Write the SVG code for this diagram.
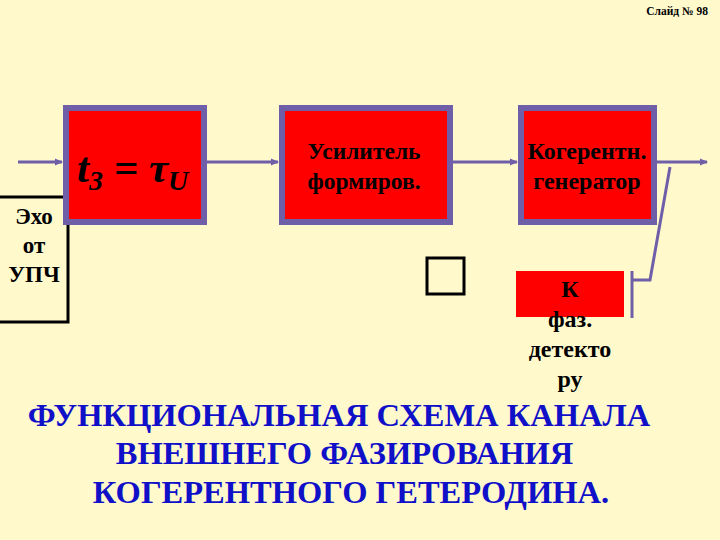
<svg xmlns="http://www.w3.org/2000/svg" width="720" height="540" viewBox="0 0 720 540">
<style>
text{font-family:'Liberation Serif','Times New Roman','DejaVu Serif',serif}
.blk{fill:#FF0000;stroke:#6F5FA8;stroke-width:6}
.ln{stroke:#6F5FA8;stroke-width:3;fill:none}
.t{font-weight:bold;fill:#000;text-anchor:middle}
.ttl{font-weight:bold;fill:#1010C8;text-anchor:middle;font-size:32.5px}
</style>
<defs>
<marker id="ah" markerWidth="8" markerHeight="8" refX="7" refY="4" orient="auto" markerUnits="userSpaceOnUse">
<path d="M0,0.5 L8,4 L0,7.5 Z" fill="#6F5FA8"/>
</marker>
</defs>
<rect width="720" height="540" fill="#FFF9CC"/>
<text x="708" y="15" font-size="11.5" font-weight="bold" text-anchor="end">Слайд № 98</text>
<g id="connectors">
<line class="ln" x1="18" y1="162" x2="62" y2="162" marker-end="url(#ah)"/>
<line class="ln" x1="207" y1="162" x2="278" y2="162" marker-end="url(#ah)"/>
<line class="ln" x1="453" y1="162" x2="517" y2="162" marker-end="url(#ah)"/>
<line class="ln" x1="657" y1="162" x2="707" y2="162" marker-end="url(#ah)"/>
<polyline class="ln" points="670,167 650,280 632,280"/>
<line class="ln" x1="632" y1="271" x2="632" y2="318"/>
</g>
<g id="echo">
<rect x="-3" y="197" width="71" height="125" fill="none" stroke="#000" stroke-width="3"/>
<text class="t" font-size="23" x="34" y="224">Эхо</text>
<text class="t" font-size="23" x="34" y="253">от</text>
<text class="t" font-size="23" x="34" y="282">УПЧ</text>
</g>
<g id="delay">
<rect class="blk" x="66" y="108" width="138" height="114"/>
<text font-weight="bold" font-style="italic" font-size="43" x="77" y="182">t<tspan font-size="28" dy="8">3</tspan><tspan dy="-8"> = </tspan>τ<tspan font-size="28" dy="8">U</tspan></text>
</g>
<g id="amp">
<rect class="blk" x="282" y="108" width="168" height="114"/>
<text class="t" font-size="23.5" x="364" y="159">Усилитель</text>
<text class="t" font-size="23.5" x="364" y="189">формиров.</text>
</g>
<g id="coh">
<rect class="blk" x="521" y="108" width="133" height="114"/>
<text class="t" font-size="24" x="587" y="159">Когерентн.</text>
<text class="t" font-size="24" x="587" y="189">генератор</text>
</g>
<g id="square">
<rect x="427" y="258" width="37" height="36" fill="none" stroke="#000" stroke-width="3"/>
</g>
<g id="phase">
<rect x="516" y="271" width="108" height="46" fill="#FF0000"/>
<text class="t" font-size="24" x="570" y="297">К</text>
<text class="t" font-size="24" x="570" y="327">фаз.</text>
<text class="t" font-size="24" x="570" y="357">детекто</text>
<text class="t" font-size="24" x="570" y="387">ру</text>
</g>
<g id="title">
<text class="ttl" x="339" y="426">ФУНКЦИОНАЛЬНАЯ СХЕМА КАНАЛА</text>
<text class="ttl" x="344.5" y="464">ВНЕШНЕГО ФАЗИРОВАНИЯ</text>
<text class="ttl" x="351" y="503">КОГЕРЕНТНОГО ГЕТЕРОДИНА.</text>
</g>
</svg>
